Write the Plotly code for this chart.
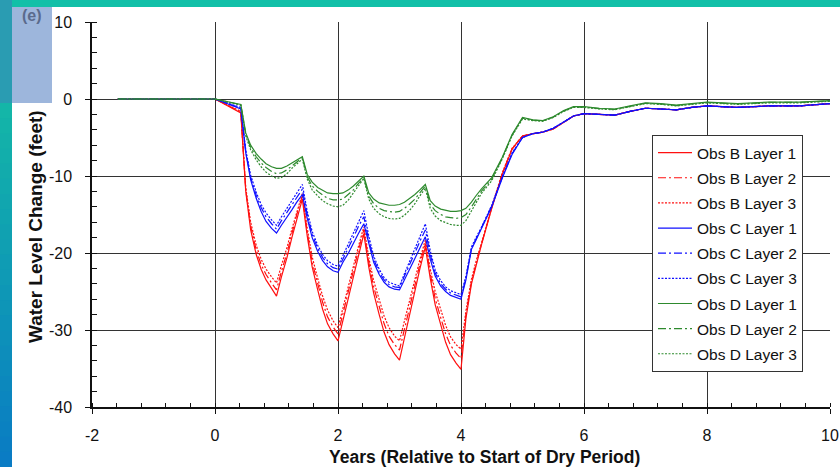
import plotly.graph_objects as go

# ---------------- data ----------------
years = [-1.58, 0, 0.42, 0.5, 0.58, 0.67, 0.75, 0.83, 0.92, 1.0,
         1.08, 1.17, 1.25, 1.33, 1.42, 1.5, 1.58, 1.67, 1.75, 1.83, 1.92, 2.0,
         2.08, 2.17, 2.25, 2.33, 2.42, 2.5, 2.58, 2.67, 2.75, 2.83, 2.92, 3.0,
         3.08, 3.17, 3.25, 3.33, 3.42, 3.5, 3.58, 3.67, 3.75, 3.83, 3.92, 4.0,
         4.08, 4.17, 4.25, 4.33, 4.5, 4.67, 4.83, 5.0, 5.17, 5.33, 5.5, 5.67, 5.83, 6.0,
         6.25, 6.5, 6.75, 7.0, 7.25, 7.5, 7.75, 8.0, 8.5, 9.0, 9.5, 10.0]

obs_b_layer1 = [0, 0, -1.8, -12.0, -17.0, -20.2, -22.1, -23.5, -24.6, -25.6,
                -23.1, -20.6, -18.0, -15.5, -13.0, -17.8, -21.8, -24.8, -27.3, -29.2, -30.5, -31.4,
                -28.6, -25.8, -23.1, -20.3, -17.5, -21.8, -25.2, -28.0, -30.3, -31.9, -33.1, -33.9,
                -31.0, -28.0, -25.1, -22.1, -19.2, -23.3, -26.7, -29.4, -31.6, -33.2, -34.3, -35.1,
                -28.5, -24.0, -21.3, -19.0, -14.2, -9.8, -6.5, -4.8, -4.5, -4.3, -3.9, -3.0, -2.2, -1.9,
                -2.0, -2.1, -1.6, -1.2, -1.3, -1.4, -1.1, -0.9, -1.1, -0.9, -0.9, -0.6]
obs_b_layer2 = [0, 0, -1.7, -11.8, -16.5, -19.6, -21.5, -22.8, -23.9, -24.8,
                -22.4, -20.0, -17.5, -15.0, -12.6, -17.3, -21.2, -24.0, -26.4, -28.3, -29.6, -30.5,
                -27.8, -25.1, -22.4, -19.7, -17.0, -21.2, -24.4, -27.1, -29.2, -30.8, -31.9, -32.6,
                -29.8, -27.0, -24.2, -21.5, -18.7, -22.7, -25.9, -28.4, -30.5, -32.0, -33.0, -33.7,
                -28.0, -23.7, -21.1, -18.9, -14.1, -9.7, -6.5, -4.8, -4.5, -4.3, -3.9, -3.0, -2.2, -1.9,
                -2.0, -2.1, -1.6, -1.2, -1.3, -1.4, -1.1, -0.9, -1.1, -0.9, -0.9, -0.6]
obs_b_layer3 = [0, 0, -1.6, -11.5, -16.0, -19.0, -20.8, -22.1, -23.1, -23.9,
                -21.6, -19.3, -16.9, -14.6, -12.3, -16.8, -20.5, -23.3, -25.6, -27.4, -28.8, -29.7,
                -27.1, -24.5, -21.8, -19.2, -16.6, -20.6, -23.6, -26.1, -28.2, -29.7, -30.8, -31.4,
                -28.8, -26.1, -23.5, -20.9, -18.3, -22.1, -25.0, -27.4, -29.4, -30.9, -31.9, -32.5,
                -27.5, -23.4, -20.9, -18.8, -14.0, -9.6, -6.4, -4.8, -4.5, -4.3, -3.9, -3.0, -2.2, -1.9,
                -2.0, -2.1, -1.6, -1.2, -1.3, -1.4, -1.1, -0.9, -1.1, -0.9, -0.9, -0.6]

obs_c_layer1 = [0, 0, -1.3, -7.0, -10.5, -12.9, -14.6, -15.9, -16.8, -17.4,
                -16.4, -15.4, -14.4, -13.4, -12.4, -15.5, -18.0, -19.8, -21.0, -21.8, -22.3, -22.5,
                -21.2, -20.0, -18.7, -17.5, -16.2, -18.9, -21.2, -22.8, -23.8, -24.4, -24.7, -24.8,
                -23.4, -22.0, -20.7, -19.3, -17.9, -20.8, -23.0, -24.3, -25.0, -25.5, -25.8, -26.0,
                -23.5, -19.5, -18.2, -16.9, -14.0, -10.3, -7.2, -5.0, -4.5, -4.3, -3.8, -3.0, -2.2, -1.9,
                -2.0, -2.1, -1.6, -1.2, -1.3, -1.4, -1.1, -0.9, -1.1, -0.9, -0.9, -0.6]
obs_c_layer2 = [0, 0, -1.2, -6.8, -10.2, -12.5, -14.1, -15.3, -16.2, -16.9,
                -15.8, -14.7, -13.7, -12.7, -11.7, -15.0, -17.6, -19.4, -20.6, -21.4, -21.9, -22.1,
                -20.7, -19.3, -18.0, -16.6, -15.3, -18.3, -20.8, -22.5, -23.5, -24.1, -24.4, -24.5,
                -23.0, -21.5, -20.0, -18.5, -17.0, -20.2, -22.6, -24.0, -24.7, -25.2, -25.5, -25.7,
                -23.3, -19.4, -18.1, -16.8, -13.9, -10.2, -7.1, -5.0, -4.5, -4.3, -3.8, -3.0, -2.2, -1.9,
                -2.0, -2.1, -1.6, -1.2, -1.3, -1.4, -1.1, -0.9, -1.1, -0.9, -0.9, -0.6]
obs_c_layer3 = [0, 0, -1.1, -6.6, -9.9, -12.1, -13.7, -14.8, -15.7, -16.4,
                -15.3, -14.2, -13.2, -12.1, -11.1, -14.6, -17.2, -19.0, -20.2, -21.0, -21.5, -21.7,
                -20.3, -18.8, -17.4, -15.9, -14.5, -17.8, -20.4, -22.1, -23.2, -23.8, -24.1, -24.3,
                -22.7, -21.0, -19.4, -17.8, -16.2, -19.7, -22.2, -23.6, -24.4, -24.9, -25.2, -25.4,
                -23.0, -19.2, -17.9, -16.7, -13.8, -10.1, -7.0, -5.0, -4.5, -4.3, -3.8, -3.0, -2.2, -1.9,
                -2.0, -2.1, -1.6, -1.2, -1.3, -1.4, -1.1, -0.9, -1.1, -0.9, -0.9, -0.6]

obs_d_layer1 = [0, 0, -0.7, -4.4, -6.0, -7.1, -7.8, -8.4, -8.8, -9.0,
                -9.0, -8.7, -8.3, -7.9, -7.5, -9.8, -10.8, -11.5, -11.9, -12.2, -12.3, -12.3,
                -12.2, -11.8, -11.3, -10.7, -10.0, -12.2, -13.0, -13.5, -13.7, -13.8, -13.8, -13.7,
                -13.4, -12.9, -12.4, -11.8, -11.1, -13.2, -13.9, -14.3, -14.5, -14.6, -14.6, -14.5,
                -14.2, -13.4, -12.5, -11.7, -10.2, -7.6, -4.6, -2.4, -2.7, -2.8, -2.3, -1.5, -1.0, -1.0,
                -1.2, -1.3, -0.9, -0.5, -0.6, -0.8, -0.6, -0.4, -0.6, -0.4, -0.4, -0.2]
obs_d_layer2 = [0, 0, -0.75, -4.6, -6.3, -7.5, -8.3, -8.9, -9.4, -9.7,
                -9.6, -9.2, -8.7, -8.2, -7.6, -10.1, -11.3, -12.0, -12.5, -12.9, -13.1, -13.1,
                -13.0, -12.4, -11.8, -11.0, -10.2, -12.6, -13.6, -14.2, -14.5, -14.6, -14.7, -14.6,
                -14.2, -13.6, -13.0, -12.2, -11.3, -13.7, -14.5, -15.0, -15.3, -15.4, -15.5, -15.4,
                -15.0, -14.0, -13.0, -12.0, -10.4, -7.7, -4.7, -2.5, -2.75, -2.85, -2.35, -1.55, -1.05, -1.05,
                -1.25, -1.35, -0.95, -0.55, -0.65, -0.85, -0.65, -0.45, -0.65, -0.45, -0.45, -0.25]
obs_d_layer3 = [0, 0, -0.8, -4.8, -6.6, -7.9, -8.8, -9.5, -10.0, -10.3,
                -10.2, -9.7, -9.0, -8.4, -7.8, -10.4, -11.8, -12.6, -13.2, -13.6, -13.9, -14.0,
                -13.8, -13.1, -12.2, -11.3, -10.3, -13.0, -14.2, -14.9, -15.3, -15.5, -15.6, -15.5,
                -15.1, -14.4, -13.6, -12.6, -11.6, -14.2, -15.2, -15.8, -16.1, -16.3, -16.4, -16.4,
                -15.8, -14.6, -13.4, -12.3, -10.6, -7.8, -4.8, -2.6, -2.8, -2.9, -2.4, -1.6, -1.1, -1.1,
                -1.3, -1.4, -1.0, -0.6, -0.7, -0.9, -0.7, -0.5, -0.7, -0.5, -0.5, -0.3]

series_names = ["Obs B Layer 1", "Obs B Layer 2", "Obs B Layer 3",
                "Obs C Layer 1", "Obs C Layer 2", "Obs C Layer 3",
                "Obs D Layer 1", "Obs D Layer 2", "Obs D Layer 3"]
series_values = [obs_b_layer1, obs_b_layer2, obs_b_layer3,
                 obs_c_layer1, obs_c_layer2, obs_c_layer3,
                 obs_d_layer1, obs_d_layer2, obs_d_layer3]

x_tick_values = [-2, 0, 2, 4, 6, 8, 10]
y_tick_values = [10, 0, -10, -20, -30, -40]

# ---------------- styles ----------------
colors = ["#ff1010"] * 3 + ["#1010ff"] * 3 + ["#2e8a2e"] * 3
dashes = ["solid", "8px,3px,2px,3px", "2px,1.5px"] * 3

W, H = 840, 467
L, R, T, B = 92, 10, 22, 60
PW, PH = W - L - R, H - T - B


def px(x):
    return (x - L) / PW


def py(y):
    return (H - B - y) / PH


fig = go.Figure()
for i, (name, vals) in enumerate(zip(series_names, series_values)):
    fig.add_trace(go.Scatter(
        x=years, y=vals, mode="lines", name=name,
        legendgroup=name,
        line=dict(color=colors[i], width=1.2, dash=dashes[i]),
    ))

shapes = []
# left gradient strip
n = 24
top_col = (20, 182, 168)
bot_col = (10, 124, 196)
y0 = 103
for k in range(n):
    f = k / (n - 1)
    c = tuple(int(top_col[j] + (bot_col[j] - top_col[j]) * f) for j in range(3))
    ya = y0 + (H - y0) * k / n
    yb = y0 + (H - y0) * (k + 1) / n + 1
    shapes.append(dict(type="rect", xref="paper", yref="paper",
                       x0=px(0), x1=px(12), y0=py(ya), y1=py(yb),
                       fillcolor="rgb(%d,%d,%d)" % c, line=dict(width=0), layer="above"))
shapes.append(dict(type="rect", xref="paper", yref="paper",
                   x0=px(0), x1=px(12), y0=py(0), y1=py(103),
                   fillcolor="#2a9cb2", line=dict(width=0), layer="above"))
# top bar
shapes.append(dict(type="rect", xref="paper", yref="paper",
                   x0=px(12), x1=px(W), y0=py(0), y1=py(7),
                   fillcolor="#12c0a8", line=dict(width=0), layer="above"))
# light blue block
shapes.append(dict(type="rect", xref="paper", yref="paper",
                   x0=px(12), x1=px(52), y0=py(7), y1=py(103),
                   fillcolor="#9db6dc", line=dict(width=0), layer="above"))

annotations = [
    dict(text="<b>(e)</b>", xref="paper", yref="paper", x=px(32), y=py(16),
         showarrow=False, font=dict(family="Liberation Sans", size=16, color="#5a6a8c"),
         xanchor="center", yanchor="middle"),
    dict(text="<b>Years (Relative to Start of Dry Period)</b>", xref="paper", yref="paper",
         x=px(485), y=py(457), showarrow=False,
         font=dict(family="Liberation Sans", size=17.5, color="#111"),
         xanchor="center", yanchor="middle"),
    dict(text="<b>Water Level Change (feet)</b>", xref="paper", yref="paper",
         x=px(35), y=py(227), showarrow=False, textangle=-90,
         font=dict(family="Liberation Sans", size=19, color="#111"),
         xanchor="center", yanchor="middle"),
]

fig.update_layout(
    width=W, height=H,
    margin=dict(l=L, r=R, t=T, b=B, autoexpand=False),
    paper_bgcolor="white", plot_bgcolor="white",
    font=dict(family="Liberation Sans", color="#111"),
    shapes=shapes, annotations=annotations,
    legend=dict(x=px(652), y=py(135), xanchor="left", yanchor="top",
                bgcolor="white", bordercolor="#333", borderwidth=1,
                font=dict(family="Liberation Sans", size=15.5, color="#111"),
                tracegroupgap=2, itemwidth=34),
    showlegend=True,
)
fig.update_xaxes(
    range=[-2, 10], tickvals=x_tick_values, ticktext=[str(v) for v in x_tick_values],
    showgrid=True, gridcolor="#333333", gridwidth=1.3,
    zeroline=True, zerolinecolor="#333333", zerolinewidth=1.3,
    showline=True, linecolor="#111", linewidth=1.5,
    ticks="outside", ticklen=5, tickcolor="#111",
    minor=dict(dtick=0.4, ticks="inside", ticklen=4, tickcolor="#111", showgrid=False),
    tickfont=dict(family="Liberation Sans", size=16, color="#111"),
    ticklabelstandoff=8,
)
fig.update_yaxes(
    range=[-40, 10], tickvals=y_tick_values, ticktext=[str(v) for v in y_tick_values],
    showgrid=True, gridcolor="#333333", gridwidth=1.3,
    zeroline=True, zerolinecolor="#333333", zerolinewidth=1.3,
    showline=True, linecolor="#111", linewidth=1.5,
    ticks="outside", ticklen=5, tickcolor="#111",
    minor=dict(dtick=2, ticks="inside", ticklen=5, tickcolor="#111", showgrid=False),
    tickfont=dict(family="Liberation Sans", size=16, color="#111"),
    ticklabelstandoff=10,
)

fig.write_html("out.html", config={"displayModeBar": False},
               post_script="document.body.style.margin='0';document.body.style.padding='0';")
